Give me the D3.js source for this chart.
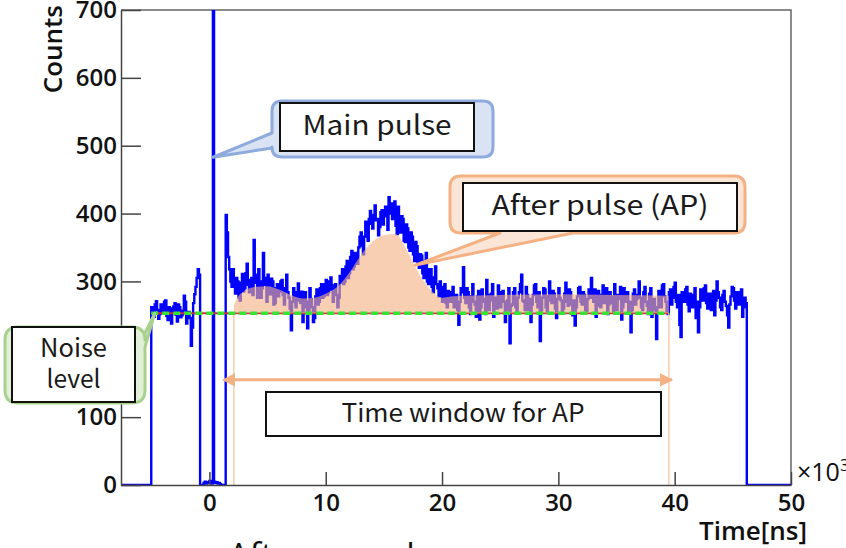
<!DOCTYPE html>
<html>
<head>
<meta charset="utf-8">
<script src="https://cdn.jsdelivr.net/npm/d3@7/dist/d3.min.js"></script>
<style>
  html, body { margin: 0; padding: 0; background: #fff; }
  svg { display: block; }
  .tick text { font-family: "Open Sans", sans-serif; font-weight: 600; fill: #111; }
  .axis path, .axis line { stroke: #444; stroke-width: 1.5; }
</style>
</head>
<body>
<script>
// ---- Histogram: time after trigger (x10^3 ns), counts per 0.1 bin ----
const binStart = -5.0;
const binWidth = 0.1;
const counts = [
  // -5.0 .. -0.9 : noise level before the pulse
  262, 255, 248, 266, 271, 258, 245, 252, 266, 260,
  254, 270, 272, 249, 243, 262, 260, 238, 256, 263,
  268, 251, 241, 266, 262, 247, 250, 257, 279, 270,
  238, 252, 255, 246, 205, 232, 268, 281, 292, 305,
  318, 310,
  // -0.8 .. 1.3 : dead time around the main pulse (spike at 0.3)
  0, 0, 0, 3, 5, 2, 4, 3, 6, 4, 2,
  1850,
  5, 3, 4, 2, 3, 1, 0, 0, 0, 0,
  // 1.4 .. 1.9
  398, 372, 336, 318, 300, 292,
  // 2.0 .. 6.1
  318, 296, 282, 305, 300, 276, 272, 298, 311, 285,
  290, 312, 326, 295, 284, 302, 305, 280, 361, 310,
  298, 276, 318, 300, 276, 290, 342, 305, 295, 270,
  310, 292, 281, 304, 300, 266, 268, 290, 296, 278,
  285, 300,
  // 6.2 .. 7.7
  302, 280, 266, 290, 310, 284, 276, 260, 228, 270, 290, 276, 262, 284, 297, 272,
  // 7.8 .. 9.7
  268, 285, 240, 262, 284, 270, 231, 256, 290, 274, 262, 240, 246, 278, 288, 266, 270, 290, 296, 276,
  // 9.8 .. 11.3
  278, 296, 302, 280, 284, 300, 306, 288, 270, 294, 296, 280, 262, 276, 308, 298,
  // 11.4 .. 12.9
  318, 296, 300, 322, 330, 305, 312, 336, 345, 318, 322, 342, 338, 326, 350, 366,
  // 13.0 .. 14.1
  372, 352, 340, 366, 388, 370, 360, 392, 404, 385, 378, 398,
  // 14.2 .. 16.3 : after-pulse peak
  412, 390, 392, 368, 380, 402, 405, 384, 398, 410, 396, 376, 424, 400, 415, 392, 402, 418, 382, 370, 410, 388,
  // 16.4 .. 17.9
  372, 396, 392, 360, 358, 384, 378, 350, 345, 372, 366, 340, 330, 358, 352, 328,
  // 18.0 .. 19.7
  320, 340, 338, 312, 305, 330, 342, 300, 296, 318, 318, 292, 284, 306, 322, 296, 290, 278,
  // 19.8 .. 20.9
  300, 284, 270, 292, 296, 268, 262, 286, 284, 270, 276, 292,
  // 21.0 .. 46.1 : flat tail
  262, 274, 280, 258, 236, 270, 290, 284, 321, 276,
  268, 290, 284, 262, 252, 278, 296, 270, 266, 248,
  278, 286, 244, 262, 288, 274, 270, 252, 302, 280,
  258, 272, 282, 296, 248, 266, 276, 260, 294, 284,
  262, 278, 286, 270, 240, 258, 272, 290, 209, 264,
  266, 284, 290, 262, 254, 276, 284, 296, 310, 272,
  270, 258, 292, 280, 258, 274, 240, 266, 280, 294,
  296, 270, 262, 284, 212, 258, 276, 290, 288, 262,
  256, 278, 300, 272, 268, 286, 282, 260, 246, 274,
  290, 276, 272, 254, 260, 282, 298, 270, 264, 288,
  284, 266, 250, 272, 235, 262, 278, 290, 292, 270,
  266, 284, 280, 258, 256, 274, 288, 276, 305, 282,
  270, 288, 248, 264, 286, 270, 262, 280, 294, 268,
  274, 290, 252, 266, 284, 278, 268, 256, 296, 280,
  258, 274, 280, 292, 244, 262, 290, 276, 270, 284,
  254, 270, 225, 258, 282, 288, 266, 274, 280, 300,
  276, 262, 258, 284, 292, 270, 264, 252, 282, 290,
  248, 272, 274, 258, 215, 262, 286, 276, 262, 294,
  296, 278, 270, 256, 252, 284, 288, 266, 276, 292,
  298, 270, 262, 280, 236, 218, 284, 274, 270, 288,
  292, 266, 256, 282, 280, 262, 266, 290, 246, 270,
  225, 262, 288, 276, 272, 290, 294, 268, 260, 282,
  282, 258, 268, 286, 250, 272, 300, 284, 276, 262,
  258, 280, 286, 270, 264, 250, 232, 266, 278, 292,
  290, 272, 260, 284, 284, 266, 270, 288, 248, 262,
  276, 268
];

// Noise level and after-pulse time window
const noiseLevel = 253;
const noiseStart = -5.0;
const apWindow = [2.1, 39.5];
const arrowLevel = 155;

// Smoothed after-pulse envelope (shaded area above the noise level)
const apEnvX = [2.1, 2.4, 3.0, 4.0, 5.0, 6.0, 7.0, 8.0, 9.0, 10.0, 11.0, 12.0, 13.0, 14.0, 15.0, 16.0, 17.0, 18.0, 19.0, 20.0, 21.0, 25.0, 30.0, 35.0, 39.5];
const apEnvY = [265, 276, 286, 292, 293, 288, 280, 275, 276, 282, 292, 312, 338, 358, 368, 370, 345, 312, 288, 276, 278, 280, 281, 280, 279];

// Axis ticks
const xMajorTicks = [0, 10, 20, 30, 40, 50];
const xMinorTicks = [-6, -4, -2, 2, 4, 6, 8, 12, 14, 16, 18, 22, 24, 26, 28, 32, 34, 36, 38, 42, 44, 46, 48];
const yMajorTicks = [0, 100, 200, 300, 400, 500, 600, 700];
const yMinorTicks = [20, 40, 60, 80, 120, 140, 160, 180, 220, 240, 260, 280, 320, 340, 360, 380, 420, 440, 460, 480, 520, 540, 560, 580, 620, 640, 660, 680];

// ---- Layout ----
const W = 846, H = 548;
const svg = d3.select("body").append("svg").attr("width", W).attr("height", H);

const x = d3.scaleLinear().domain([-7.6, 50]).range([121, 791]);
const y = d3.scaleLinear().domain([0, 700]).range([485, 10]);

svg.append("defs").append("clipPath").attr("id", "plot")
  .append("rect").attr("x", x.range()[0]).attr("y", y.range()[1])
  .attr("width", x.range()[1] - x.range()[0]).attr("height", y.range()[0] - y.range()[1]);

// Frame (top and right)
svg.append("path")
  .attr("d", `M${x.range()[0]},${y.range()[1]}H${x.range()[1]}V${y.range()[0]}`)
  .attr("fill", "none").attr("stroke", "#666").attr("stroke-width", 1.5);

const plot = svg.append("g").attr("clip-path", "url(#plot)");

// Histogram as a step line
const pts = [[x.domain()[0], 0]];
counts.forEach((c, i) => pts.push([binStart + i * binWidth, c]));
const histEnd = binStart + counts.length * binWidth;
pts.push([histEnd, 0]);
pts.push([x.domain()[1], 0]);

plot.append("path")
  .attr("d", d3.line().x(d => x(d[0])).y(d => y(d[1])).curve(d3.curveStepAfter)(pts))
  .attr("fill", "none").attr("stroke", "#0000ff").attr("stroke-width", 2.4)
  .attr("stroke-linejoin", "miter");

// Fitted noise level (red), under the dashed marker
plot.append("line")
  .attr("x1", x(noiseStart)).attr("x2", x(apWindow[1]))
  .attr("y1", y(noiseLevel)).attr("y2", y(noiseLevel))
  .attr("stroke", "#d0244a").attr("stroke-width", 2);

// After-pulse shaded area
const apPts = apEnvX.map((v, i) => [v, apEnvY[i]]);
plot.append("path")
  .attr("d", d3.area().x(d => x(d[0])).y0(y(noiseLevel)).y1(d => y(d[1])).curve(d3.curveMonotoneX)(apPts))
  .attr("fill", "#f4b183").attr("fill-opacity", 0.62);

// Time window boundaries
apWindow.forEach(t => {
  plot.append("line")
    .attr("x1", x(t)).attr("x2", x(t))
    .attr("y1", y(noiseLevel)).attr("y2", y(0))
    .attr("stroke", "#f8cbad").attr("stroke-width", 1.5);
});

// Noise level dashed marker
plot.append("line")
  .attr("x1", x(noiseStart)).attr("x2", x(apWindow[1]))
  .attr("y1", y(noiseLevel)).attr("y2", y(noiseLevel))
  .attr("stroke", "#33e633").attr("stroke-width", 3.5).attr("stroke-dasharray", "7,4");

// ---- Axes ----
const gx = svg.append("g").attr("class", "axis").attr("transform", `translate(0,${y.range()[0]})`);
gx.call(d3.axisBottom(x).tickValues(xMinorTicks).tickSize(-7).tickSizeOuter(0).tickFormat(""));
gx.call(d3.axisBottom(x).tickValues(xMajorTicks).tickSize(-13).tickSizeOuter(0).tickPadding(9).tickFormat(d3.format("d")));
gx.selectAll(".tick text").attr("font-size", 24);

const gy = svg.append("g").attr("class", "axis").attr("transform", `translate(${x.range()[0]},0)`);
gy.call(d3.axisLeft(y).tickValues(yMinorTicks).tickSize(-11).tickSizeOuter(0).tickFormat(""));
gy.call(d3.axisLeft(y).tickValues(yMajorTicks).tickSize(-20).tickSizeOuter(0).tickPadding(4).tickFormat(d3.format("d")));
gy.selectAll(".tick text").attr("font-size", 24);

// Axis titles
svg.append("text")
  .attr("transform", "translate(62,5) rotate(-90)")
  .attr("text-anchor", "end")
  .attr("font-family", "Open Sans, sans-serif").attr("font-weight", 600).attr("font-size", 26).attr("fill", "#111")
  .text("Counts");

svg.append("text")
  .attr("x", 807).attr("y", 540).attr("text-anchor", "end")
  .attr("font-family", "Open Sans, sans-serif").attr("font-weight", 600).attr("font-size", 26).attr("fill", "#111")
  .text("Time[ns]");

const mult = svg.append("text")
  .attr("x", 797).attr("y", 481)
  .attr("font-family", "Open Sans, sans-serif").attr("font-weight", 400).attr("font-size", 25).attr("fill", "#111");
mult.append("tspan").text("×10");
mult.append("tspan").attr("dy", -10).attr("font-size", 17).text("3");

// ---- Time window arrow ----
const defs = svg.select("defs");
["start", "end"].forEach(k => {
  defs.append("marker").attr("id", "ah-" + k)
    .attr("viewBox", "0 0 10 10").attr("refX", k === "end" ? 9 : 1).attr("refY", 5)
    .attr("markerWidth", 4.5).attr("markerHeight", 4.5).attr("orient", "auto-start-reverse")
    .append("path").attr("d", "M0,0L10,5L0,10Z").attr("fill", "#f4b183");
});
svg.append("line")
  .attr("x1", x(apWindow[0])).attr("x2", x(apWindow[1]) + 3)
  .attr("y1", y(arrowLevel)).attr("y2", y(arrowLevel))
  .attr("stroke", "#f4b183").attr("stroke-width", 3)
  .attr("marker-start", "url(#ah-start)").attr("marker-end", "url(#ah-end)");

// ---- Callouts ----
function calloutPath(x0, y0, x1, y1, r, side, a, b, tip) {
  let p = `M${x0 + r},${y0}`;
  if (side === "top") p += `L${a},${y0}L${tip[0]},${tip[1]}L${b},${y0}`;
  p += `L${x1 - r},${y0}Q${x1},${y0} ${x1},${y0 + r}`;
  if (side === "right") p += `L${x1},${a}L${tip[0]},${tip[1]}L${x1},${b}`;
  p += `L${x1},${y1 - r}Q${x1},${y1} ${x1 - r},${y1}`;
  if (side === "bottom") p += `L${b},${y1}L${tip[0]},${tip[1]}L${a},${y1}`;
  p += `L${x0 + r},${y1}Q${x0},${y1} ${x0},${y1 - r}`;
  if (side === "left") p += `L${x0},${b}L${tip[0]},${tip[1]}L${x0},${a}`;
  p += `L${x0},${y0 + r}Q${x0},${y0} ${x0 + r},${y0}Z`;
  return p;
}

function callout(o) {
  const g = svg.append("g");
  g.append("path")
    .attr("d", calloutPath(o.outer[0], o.outer[1], o.outer[2], o.outer[3], o.r, o.side, o.a, o.b, o.tip))
    .attr("fill", o.fill).attr("stroke", o.stroke).attr("stroke-width", 3).attr("stroke-linejoin", "round");
  g.append("rect")
    .attr("x", o.inner[0]).attr("y", o.inner[1])
    .attr("width", o.inner[2] - o.inner[0]).attr("height", o.inner[3] - o.inner[1])
    .attr("fill", "#fff").attr("stroke", "#111").attr("stroke-width", 2);
  o.lines.forEach(l => {
    g.append("text")
      .attr("x", (o.inner[0] + o.inner[2]) / 2).attr("y", l.y)
      .attr("text-anchor", "middle")
      .attr("font-family", "Noto Sans CJK JP, sans-serif").attr("font-size", o.size).attr("fill", "#1a1a1a")
      .attr("textLength", l.len).attr("lengthAdjust", "spacingAndGlyphs")
      .text(l.t);
  });
}

callout({
  outer: [272, 101, 493, 157], r: 10, side: "left", a: 133, b: 148,
  tip: [x(0.3), y(483)],
  inner: [280, 103, 474, 151],
  fill: "#dae3f3", stroke: "#8faadc", size: 27,
  lines: [{ t: "Main pulse", y: 135, len: 149 }]
});

callout({
  outer: [450, 176, 745, 233], r: 11, side: "bottom", a: 500, b: 573,
  tip: [x(17.7), y(324)],
  inner: [463, 183, 737, 231],
  fill: "#fbe5d6", stroke: "#f4b183", size: 27,
  lines: [{ t: "After pulse (AP)", y: 215, len: 217 }]
});

callout({
  outer: [5, 327, 145, 403], r: 13, side: "right", a: 333, b: 347,
  tip: [x(-4.7), y(noiseLevel)],
  inner: [12, 327, 135, 402],
  fill: "#e2f0d9", stroke: "#a9d18e", size: 25,
  lines: [{ t: "Noise", y: 357, len: 67 }, { t: "level", y: 388, len: 54 }]
});

// Time window label
svg.append("rect").attr("x", 266).attr("y", 392).attr("width", 395).attr("height", 44)
  .attr("fill", "#fff").attr("stroke", "#111").attr("stroke-width", 2);
svg.append("text")
  .attr("x", 463).attr("y", 422).attr("text-anchor", "middle")
  .attr("font-family", "Noto Sans CJK JP, sans-serif").attr("font-size", 25).attr("fill", "#1a1a1a")
  .attr("textLength", 243).attr("lengthAdjust", "spacingAndGlyphs")
  .text("Time window for AP");

// Caption running off the bottom edge
svg.append("text")
  .attr("x", 228).attr("y", 568)
  .attr("font-family", "Open Sans, sans-serif").attr("font-size", 34).attr("fill", "#111")
  .text("After cancel");
</script>
</body>
</html>
